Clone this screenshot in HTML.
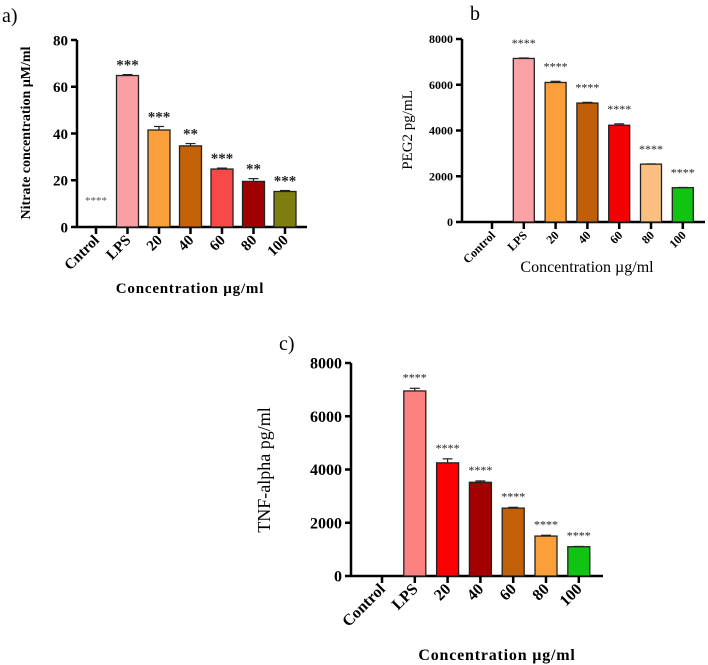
<!DOCTYPE html>
<html><head><meta charset="utf-8">
<style>
html,body{margin:0;padding:0;background:#fff;}
svg{display:block;font-family:"Liberation Serif",serif;}
</style></head>
<body>
<svg id="fig" width="708" height="665" viewBox="0 0 708 665">
<text x="2" y="22" font-size="20">a)</text>
<text x="470" y="20" font-size="20">b</text>
<text x="279" y="350" font-size="20">c)</text>
</svg>
<script>
// Panel a data
const catsA = ["Cntrol","LPS","20","40","60","80","100"];
const valsA = [0,64.8,41.5,34.7,24.8,19.5,15.2];
const errsA = [0,0.4,1.5,1.0,0.4,1.2,0.4];
const starsA = ["****","***","***","**","***","**","***"];
const ticksA = [0,20,40,60,80];
// Panel b data
const catsB = ["Control","LPS","20","40","60","80","100"];
const valsB = [0,7150,6100,5200,4230,2530,1500];
const errsB = [0,20,50,30,60,10,10];
const starsB = ["","****","****","****","****","****","****"];
const ticksB = [0,2000,4000,6000,8000];
// Panel c data
const catsC = ["Control","LPS","20","40","60","80","100"];
const valsC = [0,6950,4250,3520,2550,1500,1100];
const errsC = [0,100,150,50,30,30,10];
const starsC = ["","****","****","****","****","****","****"];
const ticksC = [0,2000,4000,6000,8000];

const NS="http://www.w3.org/2000/svg";
const svg=document.getElementById('fig');
function mk(tag,attrs,parent){const e=document.createElementNS(NS,tag);for(const k in attrs)e.setAttribute(k,attrs[k]);(parent||svg).appendChild(e);return e;}

function panel(p){
  const g=mk('g',{});
  
  
  const y=v=>p.y0-(v/p.max)*(p.y0-p.yTop);
  const x=i=>p.x0+i*p.step;
  const ya=mk('line',{x1:p.ax,y1:p.yTop,x2:p.ax,y2:p.y0,stroke:'#000','stroke-width':2.5},g);
  
  
  const xa=mk('line',{x1:p.ax,y1:p.y0,x2:p.xEnd,y2:p.y0,stroke:'#000','stroke-width':2.5},g);
  
  
  p.ticks.forEach(t=>{
    mk('line',{x1:p.ax-6,y1:y(t),x2:p.ax,y2:y(t),stroke:'#000','stroke-width':2.5},g);
    const tl=mk('text',{x:p.ax-9,y:y(t)+p.tfs*0.35,'text-anchor':'end','font-size':p.tfs,'font-weight':'bold'},g);
    tl.textContent=t;
    
    
  });
  p.cats.forEach((c,i)=>{
    const cx=x(i);
    if(p.vals[i]>0){
      const b=mk('rect',{x:cx-p.bw/2,y:y(p.vals[i]),width:p.bw,height:p.y0-y(p.vals[i]),fill:p.colors[i],stroke:'#222','stroke-width':1.3},g);
      
      
      const et=y(p.vals[i]+p.errs[i]);
      mk('line',{x1:cx,y1:et,x2:cx,y2:y(p.vals[i]),stroke:'#222','stroke-width':1.2},g);
      mk('line',{x1:cx-5,y1:et,x2:cx+5,y2:et,stroke:'#222','stroke-width':1.2},g);
    }
    mk('line',{x1:cx,y1:p.y0,x2:cx,y2:p.y0+7,stroke:'#000','stroke-width':2.5},g);
    if(p.stars[i]){
      const ctrl=!(p.vals[i]>0);
      const sy=ctrl?p.ctrlStarY:y(p.vals[i]+p.errs[i])-p.soff;
      const s=mk('text',{x:cx,y:sy,'text-anchor':'middle','font-size':ctrl?11:p.sfs,'font-weight':p.sbold&&!ctrl?'bold':'normal',fill:ctrl?'#555':'#222'},g);
      s.textContent=p.stars[i];
      
      
    }
    const lx=cx+4, ly=p.y0+14;
    const l=mk('text',{x:lx,y:ly,'text-anchor':'end','font-size':p.cfs,'font-weight':'bold',transform:`rotate(-45 ${lx} ${ly})`},g);
    l.textContent=c;
    
    
  });
  const yt=mk('text',{x:p.ytx,y:p.yty,'text-anchor':'middle','font-size':p.ytfs,'font-weight':p.ytb?'bold':'normal',transform:`rotate(-90 ${p.ytx} ${p.yty})`},g);
  yt.textContent=p.ytitle;
  
  
  const xt=mk('text',{x:p.xtx,y:p.xty,'text-anchor':'middle','font-size':p.xtfs,'font-weight':p.xtb?'bold':'normal','letter-spacing':p.xtls||0},g);
  xt.textContent='Concentration µg/ml';
  
  
}

panel({id:'a',cats:catsA,vals:valsA,errs:errsA,stars:starsA,ticks:ticksA,max:80,
  ax:77,yTop:40,y0:227,xEnd:307,x0:96,step:31.5,bw:22,
  colors:['#fff','#fb9fa5','#fb9f3b','#c4620a','#f84848','#a10000','#7e7e10'],
  tfs:15,sfs:15,sbold:true,cfs:15,ctrlStarY:204,soff:5,
  ytitle:'Nitrate concentration µM/ml',ytx:30,yty:133,ytfs:14,ytb:true,
  xtx:190,xty:293,xtfs:15,xtb:true,xtls:0.8});
panel({id:'b',cats:catsB,vals:valsB,errs:errsB,stars:starsB,ticks:ticksB,max:8000,
  ax:462,yTop:39,y0:222,xEnd:705,x0:492,step:31.8,bw:21,
  colors:['#fff','#fba2a6','#fb9f3b','#bf5f0a','#f50000','#fbbf80','#12c412'],
  tfs:12,sfs:12,sbold:false,cfs:12,ctrlStarY:0,soff:11,
  ytitle:'PEG2 pg/mL',ytx:412,yty:130,ytfs:15,ytb:false,
  xtx:587,xty:272,xtfs:16,xtb:false});
panel({id:'c',cats:catsC,vals:valsC,errs:errsC,stars:starsC,ticks:ticksC,max:8000,
  ax:351,yTop:363,y0:576,xEnd:603,x0:382,step:32.8,bw:22,
  colors:['#fff','#fb8080','#fb0000','#a30000','#c2600a','#fb9f3b','#12c412'],
  tfs:16,sfs:12,sbold:false,cfs:16,ctrlStarY:0,soff:7,
  ytitle:'TNF-alpha pg/ml',ytx:270,yty:470,ytfs:18,ytb:false,
  xtx:497,xty:660,xtfs:16,xtb:true,xtls:0.8});
</script>
</body></html>
